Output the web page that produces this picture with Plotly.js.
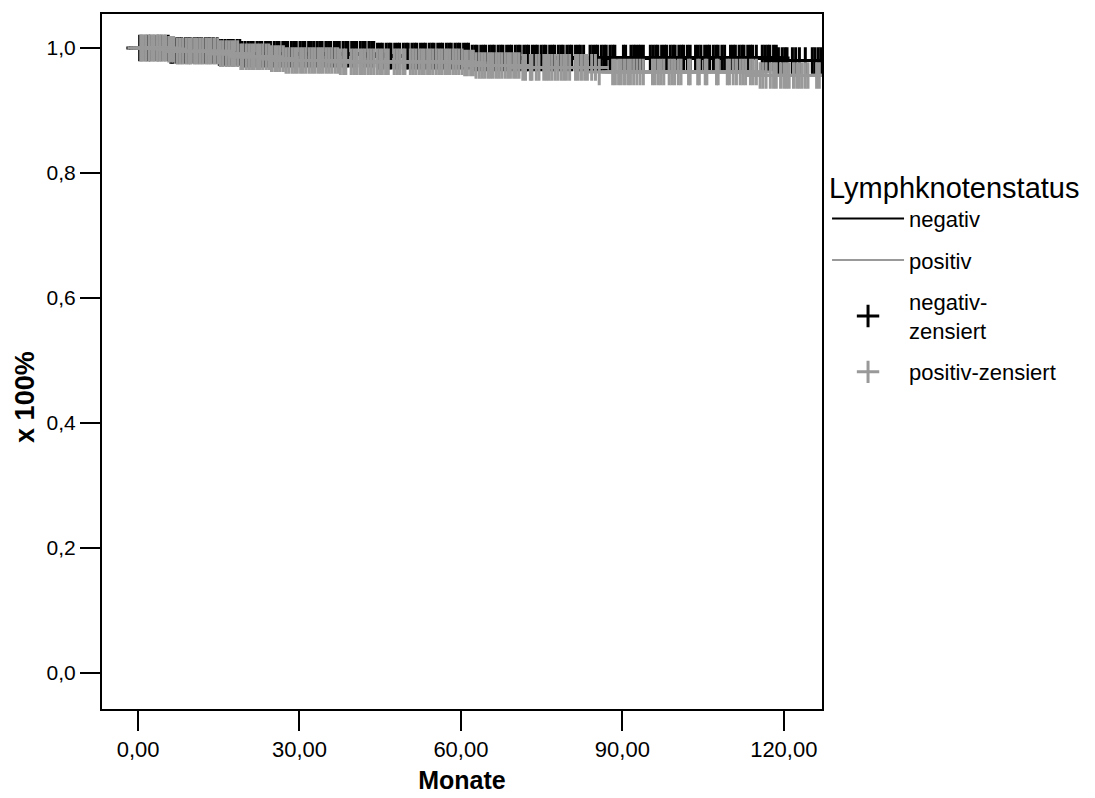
<!DOCTYPE html>
<html>
<head>
<meta charset="utf-8">
<script src="https://cdn.plot.ly/plotly-3.0.1.min.js"></script>
<style>html,body{margin:0;padding:0;background:#fff}#chart{width:1095px;height:798px}</style>
</head>
<body>
<div id="chart"></div>
<script>
// Kaplan-Meier step points (months, survival fraction)
const negTimes = [0, 5.9, 15.0, 19.0, 44.0, 62.0, 119.0, 127];
const negSurv  = [1.0, 0.996, 0.993, 0.990, 0.987, 0.984, 0.980, 0.980];
const posTimes = [0, 5.4, 6.9, 15.2, 18.6, 24.5, 27.3, 37.5, 60.4, 62.6, 71.3, 85.5, 115.5, 127];
const posSurv  = [1.0, 0.998, 0.995, 0.991, 0.986, 0.983, 0.980, 0.978, 0.976, 0.972, 0.969, 0.9615, 0.956, 0.956];

// censored observation times (months)
const negCensored = [0.3,0.8,1.4,1.9,2.3,2.9,3.5,3.9,4.4,5.0,5.6,6.1,6.5,7.2,7.7,8.1,8.8,9.3,9.7,10.4,10.9,11.3,11.8,12.5,13.0,13.4,14.0,14.7,15.1,15.6,16.2,16.8,17.2,17.7,18.4,18.9,19.3,19.9,20.5,21.0,21.4,22.1,22.6,23.0,23.7,24.2,24.6,25.3,25.8,26.2,26.9,27.4,27.8,28.5,29.0,29.4,30.1,30.6,31.0,31.7,32.2,32.7,33.3,33.8,34.2,34.9,35.4,35.8,36.5,37.0,37.4,38.1,38.6,39.0,39.7,40.2,40.6,41.3,41.8,42.2,42.9,43.4,43.8,44.5,45.0,45.4,46.1,46.6,47.0,47.7,48.2,48.6,49.3,49.8,50.2,50.9,51.4,51.8,52.5,53.0,53.4,54.1,54.6,55.0,55.7,56.2,56.6,57.3,57.8,58.2,58.9,59.4,59.8,60.5,61.0,61.4,62.1,62.6,63.0,63.7,64.2,64.6,65.3,65.8,66.2,66.9,67.4,67.8,68.5,69.0,69.4,70.1,70.6,71.0,71.7,72.2,72.6,73.3,73.8,74.2,74.9,75.4,75.8,76.5,77.0,77.4,78.1,78.6,79.0,79.7,80.2,80.6,81.3,81.8,82.2,82.8,84.0,84.5,85.0,85.4,86.1,86.6,87.0,87.7,88.2,88.6,90.2,90.6,91.6,92.1,92.5,93.0,93.4,93.9,95.2,95.7,96.2,96.6,97.3,97.8,98.2,98.9,99.4,99.8,100.5,101.0,101.4,102.1,102.6,103.6,104.1,104.6,105.3,105.8,106.2,106.9,107.4,107.8,108.5,109.0,110.1,110.6,111.0,111.7,112.2,112.6,113.3,113.8,114.2,114.9,116.0,116.5,117.0,117.4,118.1,118.6,119.0,119.7,120.2,120.6,121.6,122.2,122.9,124.0,125.3,125.8,126.4,126.9];
const posCensored = [0.5,1.0,1.5,2.1,2.6,3.0,3.6,4.1,4.6,5.1,5.7,6.2,6.6,7.3,7.8,8.3,8.9,9.4,9.8,10.5,11.0,11.5,12.0,12.6,13.1,13.6,14.2,14.8,15.3,15.8,16.4,16.9,17.4,17.9,18.5,19.1,19.5,20.1,20.6,21.1,21.6,22.2,22.7,23.2,23.8,24.3,24.8,25.4,25.9,26.4,27.0,27.5,28.0,28.6,29.1,29.6,30.2,30.7,31.2,31.8,32.3,32.8,33.4,33.9,34.4,35.0,35.5,36.0,36.6,37.1,37.6,38.2,38.6,39.6,40.1,40.6,41.2,41.7,42.2,42.8,43.3,43.8,44.4,44.9,45.4,46.0,46.5,47.6,48.1,48.6,49.2,49.6,50.6,51.1,51.6,52.2,52.7,53.2,53.8,54.3,54.8,55.4,55.9,56.4,57.0,57.5,58.0,58.6,59.1,59.6,60.2,60.7,61.2,61.8,62.3,62.8,63.4,63.9,64.4,65.0,65.5,66.0,66.6,67.1,67.6,68.2,68.7,69.2,69.8,70.3,70.8,71.5,72.0,72.9,73.2,74.0,74.5,75.4,75.9,76.4,76.9,77.5,78.0,78.6,79.1,79.6,80.2,81.3,81.8,82.4,83.0,83.5,84.3,85.0,85.7,88.2,88.7,89.3,89.8,90.4,91.0,91.5,92.1,92.7,93.3,93.9,95.6,96.1,96.7,97.2,97.7,98.7,99.2,99.7,100.4,100.9,102.3,102.6,104.0,104.3,105.4,105.7,107.5,107.8,109.5,109.9,110.6,111.2,111.9,112.4,112.9,113.8,114.3,114.9,115.6,116.1,116.7,117.5,118.1,118.6,119.4,120.0,120.5,121.0,121.8,122.4,122.9,123.4,124.0,124.5,126.1,126.6];

const xTickVals = [0, 30, 60, 90, 120];
const yTickVals = [0, 0.2, 0.4, 0.6, 0.8, 1.0];

function survAt(times, surv, t) {
  let v = surv[0];
  for (let i = 0; i < times.length; i++) { if (times[i] <= t) v = surv[i]; }
  return v;
}

const BLACK = '#000000', GRAY = '#999999';
const FONT = 'Arial, "Liberation Sans", sans-serif';

const traces = [
  {x: negTimes, y: negSurv, mode: 'lines', line: {shape: 'hv', color: BLACK, width: 2}, name: 'negativ', legendgroup: 'a'},
  {x: posTimes, y: posSurv, mode: 'lines', line: {shape: 'hv', color: GRAY, width: 2}, name: 'positiv', legendgroup: 'b'},
  {x: negCensored, y: negCensored.map(t => survAt(negTimes, negSurv, t)), mode: 'markers', legendgroup: 'c',
   marker: {symbol: 'cross-thin', size: 19, line: {color: BLACK, width: 3}}, name: 'negativ-<br>zensiert'},
  {x: posCensored, y: posCensored.map(t => survAt(posTimes, posSurv, t)), mode: 'markers', legendgroup: 'd',
   marker: {symbol: 'cross-thin', size: 19, line: {color: GRAY, width: 3}}, name: 'positiv-zensiert'}
];

const layout = {
  width: 1095, height: 798,
  paper_bgcolor: '#fff', plot_bgcolor: '#fff',
  font: {family: FONT, color: '#000', size: 22},
  separators: ',.',
  margin: {l: 102, r: 273, t: 14, b: 89, pad: 0},
  showlegend: true,
  xaxis: {
    range: [-6.7, 127.1], tickvals: xTickVals, tickformat: '.2f',
    ticks: 'outside', ticklen: 20, tickwidth: 2, tickcolor: '#000',
    showline: true, linecolor: '#000', linewidth: 2, mirror: true,
    showgrid: false, zeroline: false, tickfont: {size: 22},
    title: {text: '<b>Monate</b>', font: {size: 25}, standoff: 10}
  },
  yaxis: {
    range: [-0.0576, 1.0544], tickvals: yTickVals, tickformat: '.1f',
    ticks: 'outside', ticklen: 20, tickwidth: 2, tickcolor: '#000',
    showline: true, linecolor: '#000', linewidth: 2, mirror: true,
    showgrid: false, zeroline: false, tickfont: {size: 21}
  },
  annotations: [{
    text: '<b>x 100%</b>', textangle: -90, showarrow: false,
    xref: 'paper', yref: 'paper', x: -0.107, y: 0.449,
    xanchor: 'center', yanchor: 'middle', font: {size: 27}
  }],
  legend: {
    x: 1.007, xanchor: 'left', y: 0.79, yanchor: 'top',
    title: {text: 'Lymphknotenstatus', font: {size: 29}},
    font: {size: 22}, itemwidth: 72, tracegroupgap: 10,
    bgcolor: 'rgba(0,0,0,0)'
  }
};

Plotly.newPlot('chart', traces, layout, {displayModeBar: false, staticPlot: true});
</script>
</body>
</html>
